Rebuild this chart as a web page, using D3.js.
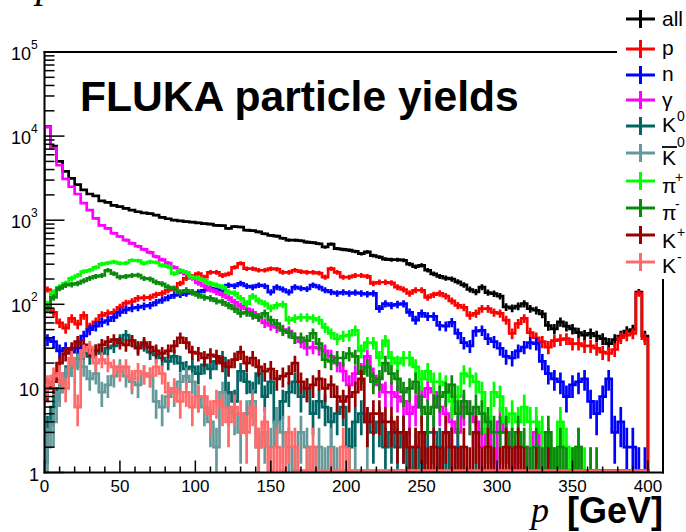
<!DOCTYPE html>
<html><head><meta charset="utf-8">
<script src="https://cdn.jsdelivr.net/npm/d3@7"></script>
<style>
body{margin:0;background:#fff}
svg{display:block}
text{font-family:"Liberation Sans",Arial,Helvetica,sans-serif}
</style>
</head><body>
<svg id="c" width="686" height="532"></svg>
<script>
// ---- binning (p in GeV) ----
const binLow = 0, binHigh = 400, nBins = 100;

// ---- series values (counts per 4 GeV bin) ----
const allVals = [13000,7600,5000,3800,3150,2650,2300,2050,1950,1700,
 1630,1500,1450,1380,1320,1260,1220,1200,1150,1080,
 1040,1000,980,960,950,930,910,900,870,860,
 800,840,830,760,750,725,690,660,645,610,
 580,578,570,550,540,525,480,520,460,450,
 440,425,400,420,380,365,345,340,340,334,
 300,280,290,254,230,215,205,200,185,170,
 150,140,160,138,134,125,93,90,95,102,
 89,85,77,56,51,62,55,51,46,43,
 45,42,39,34,38,42,48,50,140,42];
const pVals = [150,80,60,52,68,58,74,53,62,74,
 78,80,92,103,108,118,120,121,130,135,
 147,150,177,204,215,232,210,240,240,220,
 230,275,307,265,265,254,254,265,262,240,
 240,254,245,240,240,235,210,265,240,210,
 210,220,220,215,177,183,183,180,160,150,
 135,147,147,121,130,135,125,110,97,92,
 74,78,89,89,80,78,65,45,59,68,
 46,40,36,31,37,38,39,34,34,32,
 32,30,27,26,29,40,43,45,135,39];
const nVals = [38,36,28,30,27,30,42,50,55,61,
 64,70,80,86,90,92,95,97,105,112,
 120,128,130,135,139,139,147,155,150,147,
 169,165,177,165,160,169,165,139,160,150,
 139,160,155,152,169,160,147,140,135,139,
 135,138,135,132,135,89,102,97,100,102,
 80,65,78,72,72,56,55,61,45,35,
 32,48,49,39,36,30,24,23,28,31,
 35,34,21,15,13,12,8,11,12,13,
 7,5,8,13,3,4,2,2,1,1];
const gammaVals = [12800,7200,4500,3100,2500,2050,1600,1320,1050,870,
 800,700,640,580,530,490,450,415,370,340,
 310,275,245,230,205,180,165,150,140,130,
 120,106,95,88,80,70,60,56,53,50,
 48,40,36,30,31,30,28,24,20,16,
 11,15,16,24,14,11,9,9,8,7,
 5,6,8,10,9,6,5,4,3,6,
 5,4,2,3,1,4,3,2,1,0,
 2,3,1,2,1,0,0,0,0,0,
 0,0,0,0,0,0,0,0,0,0];
const k0Vals = [3,6,10,15,18,22,27,24,28,26,
 30,32,38,43,37,31,33,27,25,23,
 21,24,20,17,18,15,19,17,21,23,
 9,7,16,12,9,15,8,12,4,7,
 9,12,8,10,5,7,6,4,5,6,
 2,4,5,4,3,4,2,3,2,3,
 1,2,1,3,3,2,1,2,2,1,
 0,1,0,0,0,0,0,0,0,0,
 0,0,0,0,0,0,0,0,0,0,
 0,0,0,0,0,0,0,0,0,0];
const k0barVals = [2,4,9,14,18,21,18,13,15,9,
 11,14,18,14,12,11,15,14,7,6,
 8,9,12,14,12,8,6,4,2,9,
 6,5,3,5,7,2,3,2,4,3,
 2,1,3,2,1,2,1,2,1,0,
 1,1,0,1,0,0,0,0,0,0,
 0,0,0,0,0,0,0,0,0,0,
 0,0,0,0,0,0,0,0,0,0,
 0,0,0,0,0,0,0,0,0,0,
 0,0,0,0,0,0,0,0,0,0];
const piPlusVals = [100,139,160,177,204,220,245,254,275,300,
 310,320,307,310,334,330,307,320,315,290,
 280,232,254,240,210,205,193,177,169,160,
 140,135,118,102,125,110,102,90,97,100,
 65,68,70,70,68,65,53,45,39,42,
 43,49,28,35,35,23,37,23,20,23,
 23,18,13,16,12,12,11,7,8,15,
 14,12,9,3,9,8,4,5,4,6,
 4,4,3,2,1,4,2,1,2,1,
 1,0,0,0,0,0,0,0,0,0];
const piMinusVals = [90,121,155,169,172,177,190,204,215,220,
 254,232,210,215,220,222,204,200,183,175,
 160,155,139,147,140,128,121,118,110,106,
 97,88,78,80,74,70,78,65,59,49,
 46,40,40,37,45,34,22,21,23,23,
 26,24,15,18,12,13,20,15,13,9,
 10,12,6,5,6,8,9,11,5,7,
 5,6,5,4,3,3,3,2,3,2,
 1,2,1,3,1,2,1,1,2,0,
 1,1,0,0,0,0,0,0,0,0];
const kPlusVals = [10,12,20,26,30,36,33,29,28,33,
 36,38,35,33,37,30,35,31,28,26,
 28,32,40,35,27,26,23,25,24,20,
 18,22,27,20,23,18,16,17,13,14,
 15,20,12,10,11,13,10,11,8,7,
 8,9,13,4,5,5,4,4,3,3,
 2,2,3,1,2,1,3,2,1,2,
 1,3,1,2,1,1,2,1,2,1,
 0,1,0,1,0,0,0,0,0,0,
 0,0,0,0,0,0,0,0,0,0];
const kMinusVals = [11,14,15,10,23,6,28,31,20,22,
 20,18,16,18,13,16,15,14,18,15,
 9,10,7,9,6,8,8,5,7,6,
 4,6,5,3,6,2,4,1,2,1,
 3,2,0,1,2,0,0,1,0,2,
 1,0,0,0,0,0,0,0,0,0,
 0,0,0,0,0,0,0,0,0,0,
 0,0,0,0,0,0,0,0,0,0,
 0,0,0,0,0,0,0,0,0,0,
 0,0,0,0,0,0,0,0,0,0];

const xMajorTicks = [0,50,100,150,200,250,300,350,400];
const yDecades = [1,10,100,1000,10000,100000];

const series = [
  {key:"all", vals:allVals, color:"#000000"},
  {key:"p", vals:pVals, color:"#ff0000"},
  {key:"n", vals:nVals, color:"#0000ff"},
  {key:"gamma", vals:gammaVals, color:"#ff00ff"},
  {key:"K0", vals:k0Vals, color:"#036464"},
  {key:"K0bar", vals:k0barVals, color:"#669a9a"},
  {key:"pi+", vals:piPlusVals, color:"#00ff00"},
  {key:"pi-", vals:piMinusVals, color:"#0a8a0a"},
  {key:"K+", vals:kPlusVals, color:"#980000"},
  {key:"K-", vals:kMinusVals, color:"#ff6b6b"}
];

// ---- drawing ----
const svg = d3.select("#c");
svg.append("rect").attr("width",686).attr("height",532).attr("fill","#fff");

const x = d3.scaleLinear().domain([0,410]).range([44.5,663]);
const y = d3.scaleLog().domain([1,1e5]).range([472.5,52]);
const yBottom = 470.5;
const yv = v => v > 0 ? Math.min(y(Math.max(v,1)), yBottom) : yBottom;

svg.append("defs").append("clipPath").attr("id","clip")
  .append("rect").attr("x",x(0)).attr("y",y(1e5)).attr("width",x(410)-x(0)).attr("height",y(1)-y(1e5)+0.5);

const edges = d3.range(nBins+1).map(i => binLow + i*(binHigh-binLow)/nBins);
const plot = svg.append("g").attr("clip-path","url(#clip)");
const line = d3.line();
const LW = 2.7;

series.forEach(s => {
  const pts = [[x(edges[0]), yBottom+4]];
  s.vals.forEach((v,i) => { pts.push([x(edges[i]), yv(v)]); pts.push([x(edges[i+1]), yv(v)]); });
  pts.push([x(edges[nBins]), yBottom+4]);
  plot.append("path").attr("d", line(pts)).attr("fill","none")
    .attr("stroke", s.color).attr("stroke-width", LW).attr("stroke-linejoin","miter");
  // error bars (sqrt N)
  let d = "";
  s.vals.forEach((v,i) => {
    if (v <= 0) return;
    const e = Math.sqrt(v);
    const xc = x((edges[i]+edges[i+1])/2);
    const y1 = (v - e) > 1 ? y(v - e) : 480;
    const y2 = y(v + e);
    d += `M${xc},${y1}L${xc},${y2}`;
  });
  if (d) plot.append("path").attr("d", d).attr("fill","none")
    .attr("stroke", s.color).attr("stroke-width", LW);
});

// ---- frame / axes ----
const ax = svg.append("g").attr("stroke","#000").attr("fill","none");
ax.append("line").attr("x1",x(0)).attr("x2",x(0)).attr("y1",y(1e5)-1).attr("y2",y(1)+1).attr("stroke-width",2);
ax.append("line").attr("x1",x(0)-1).attr("x2",x(410)+1).attr("y1",y(1)).attr("y2",y(1)).attr("stroke-width",2);
ax.append("line").attr("x1",x(0)-1).attr("x2",x(410)+1).attr("y1",y(1e5)).attr("y2",y(1e5)).attr("stroke-width",2);
ax.append("line").attr("x1",x(410)).attr("x2",x(410)).attr("y1",y(1e5)).attr("y2",y(1)+1).attr("stroke-width",2);

// x ticks
d3.range(0,411,10).forEach(t => {
  const major = t % 50 === 0;
  ax.append("line").attr("x1",x(t)).attr("x2",x(t)).attr("y1",y(1)).attr("y2",y(1)-(major?12:6)).attr("stroke-width",1.5);
});
// y ticks
yDecades.forEach((dec,k) => {
  if (k < yDecades.length-1) {
    ax.append("line").attr("x1",x(0)).attr("x2",x(0)+20).attr("y1",y(dec)).attr("y2",y(dec)).attr("stroke-width",1.5);
    for (let m=2;m<=9;m++) {
      ax.append("line").attr("x1",x(0)).attr("x2",x(0)+10).attr("y1",y(dec*m)).attr("y2",y(dec*m)).attr("stroke-width",1.5);
    }
  }
});

// tick labels
const lab = svg.append("g").attr("fill","#000");
xMajorTicks.forEach(t => {
  lab.append("text").attr("x",x(t)).attr("y",492).attr("text-anchor","middle").attr("font-size",17).text(t);
});
yDecades.forEach(dec => {
  const e = Math.round(Math.log10(dec));
  const ty = y(dec) + 8;
  if (e <= 1) {
    lab.append("text").attr("x",39).attr("y",ty).attr("text-anchor","end").attr("font-size",18).text(dec);
  } else {
    lab.append("text").attr("x",31).attr("y",ty).attr("text-anchor","end").attr("font-size",18).text("10");
    lab.append("text").attr("x",31).attr("y",ty-11).attr("font-size",12).text(e);
  }
});

// title
svg.append("text").attr("x",80).attr("y",111).attr("font-size",42.6).attr("font-weight","bold").text("FLUKA particle yields");

// axis title
svg.append("text").attr("x",663).attr("y",523).attr("text-anchor","end").attr("font-size",36).attr("font-weight","bold").text("[GeV]");
svg.append("text").attr("x",531).attr("y",522).attr("font-size",36).attr("font-style","italic")
  .style("font-family","'Liberation Serif','Times New Roman',serif").text("p");

// cut-off text at the very top (only its descender is inside the picture)
svg.append("text").attr("x",36).attr("y",-3).attr("font-size",40).attr("font-style","italic")
  .style("font-family","'Liberation Serif','Times New Roman',serif").text("p");

// ---- legend ----
const leg = svg.append("g");
leg.append("rect").attr("x",617).attr("y",0).attr("width",69).attr("height",279).attr("fill","#fff");
const markerY = [19,49,75,100,126,153,181,208,235,262];
const textY   = [26,55,81,107,132,165,193,220,248,273];
const labels = [
  {base:"all"},{base:"p"},{base:"n"},{base:"γ"},
  {base:"K",sup:"0"},{base:"K",sup:"0",bar:true},
  {base:"π",sup:"+"},{base:"π",sup:"-"},
  {base:"K",sup:"+"},{base:"K",sup:"-"}
];
series.forEach((s,i) => {
  const my = markerY[i];
  leg.append("line").attr("x1",626).attr("x2",655).attr("y1",my).attr("y2",my).attr("stroke",s.color).attr("stroke-width",3);
  leg.append("line").attr("x1",640.5).attr("x2",640.5).attr("y1",my-9).attr("y2",my+9).attr("stroke",s.color).attr("stroke-width",3);
  const L = labels[i];
  leg.append("text").attr("x",662).attr("y",textY[i]).attr("font-size",21).text(L.base);
  if (L.sup) {
    const dy = L.bar ? -18 : -11;
    leg.append("text").attr("x", L.base==="π" ? 675 : 677).attr("y",textY[i]+dy).attr("font-size",14).text(L.sup);
  }
  if (L.bar) {
    leg.append("line").attr("x1",662).attr("x2",677).attr("y1",textY[i]-18).attr("y2",textY[i]-18).attr("stroke","#000").attr("stroke-width",1.8);
  }
});
</script>
</body></html>
